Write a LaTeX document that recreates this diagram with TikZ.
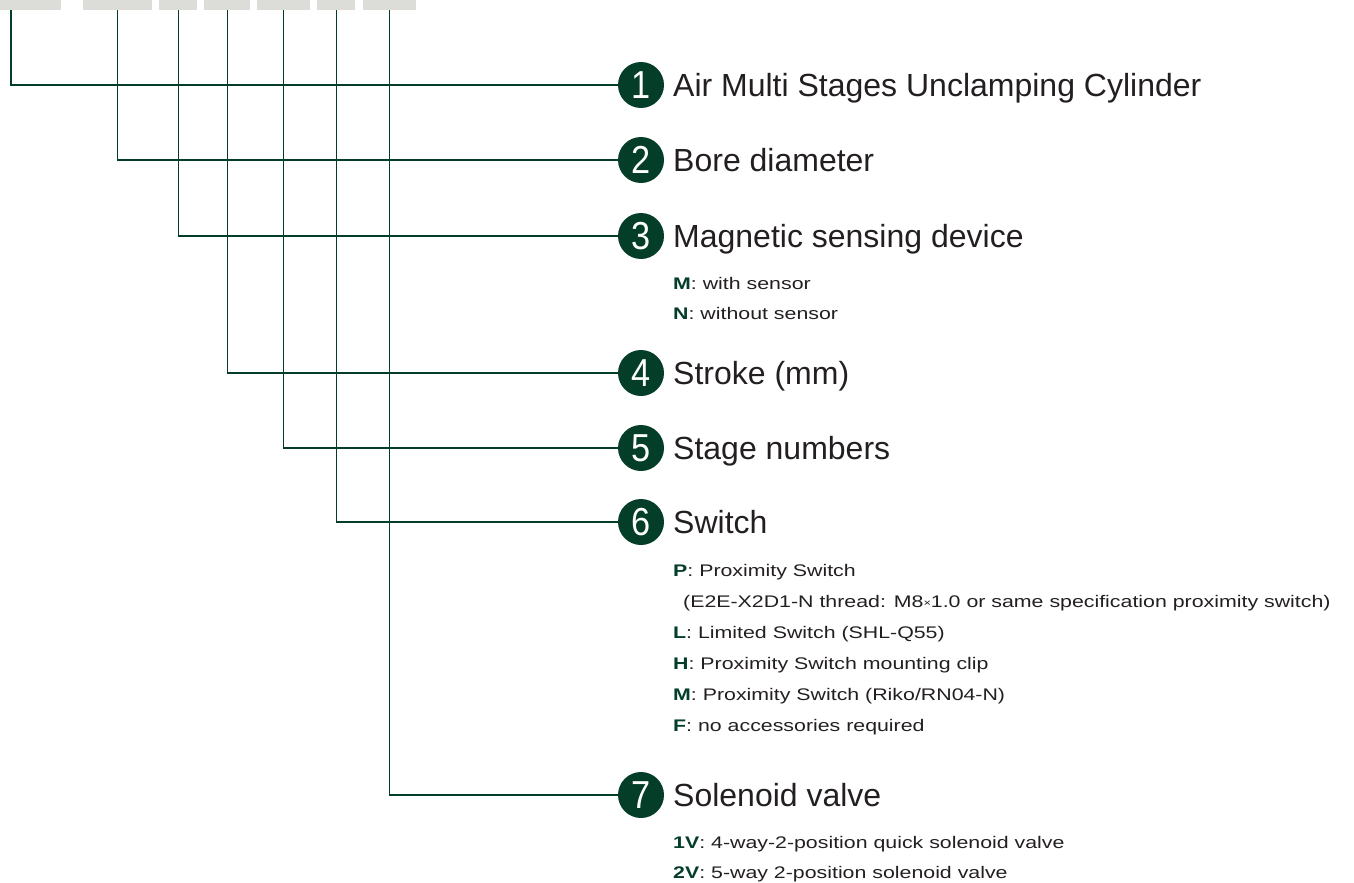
\documentclass[tikz,border=0pt]{standalone}
\usepackage{fontspec}
\setmainfont{Liberation Sans}
\newfontfamily\subfont[FakeStretch=1.27]{Liberation Sans}
\newfontfamily\numfont[FakeStretch=0.88]{Liberation Sans}

\definecolor{tagreen}{RGB}{4,62,40}
\definecolor{tabgray}{RGB}{220,220,216}
\definecolor{tatext}{RGB}{35,31,32}
\newcommand{\optkey}[1]{\textcolor{tagreen}{\textbf{#1}}}

\begin{document}
\begin{tikzpicture}[x=1pt,y=-1pt,
    tab/.style={fill=tabgray, inner sep=0, minimum height=10pt, anchor=north west},
    num/.style={circle, fill=tagreen, text=white, inner sep=0, minimum size=46pt,
        font=\numfont\fontsize{39}{39}\selectfont},
    lead/.style={draw=tagreen, line width=1.4pt},
    head/.style={anchor=base west, inner sep=0, text=tatext, font=\fontsize{32}{38}\selectfont},
    sub/.style={anchor=base west, inner sep=0, text=tatext, font=\subfont\fontsize{16.8}{20}\selectfont}]
        \useasboundingbox (0,0) rectangle (1354,883);
        % code boxes along the top
        \node[tab, minimum width=61pt] (b1) at (0,0) {};
        \node[tab, minimum width=69pt] (b2) at (83,0) {};
        \node[tab, minimum width=38pt] (b3) at (159,0) {};
        \node[tab, minimum width=46pt] (b4) at (204,0) {};
        \node[tab, minimum width=53pt] (b5) at (257,0) {};
        \node[tab, minimum width=38pt] (b6) at (317,0) {};
        \node[tab, minimum width=53pt] (b7) at (363,0) {};
        % numbered circles
        \node[num] (c1) at (641,85) {1};
        \node[num] (c2) at (641,160) {2};
        \node[num] (c3) at (641,236) {3};
        \node[num] (c4) at (641,373) {4};
        \node[num] (c5) at (641,448) {5};
        \node[num] (c6) at (641,522) {6};
        \node[num] (c7) at (641,795) {7};
        % leader lines
        \draw[lead] ([xshift=11pt]b1.south west) |- (c1.west);
        \draw[lead] (b2.south) |- (c2.west);
        \draw[lead] (b3.south) |- (c3.west);
        \draw[lead] (b4.south) |- (c4.west);
        \draw[lead] (b5.south) |- (c5.west);
        \draw[lead] (b6.south) |- (c6.west);
        \draw[lead] (b7.south) |- (c7.west);
        % headings
        \node[head] (h1) at (673,96.5) {Air Multi Stages Unclamping Cylinder};
        \node[head] (h2) at (673,171.5) {Bore diameter};
        \node[head] (h3) at (673,247.5) {Magnetic sensing device};
        \node[head] (h4) at (673,384.5) {Stroke (mm)};
        \node[head] (h5) at (673,459.5) {Stage numbers};
        \node[head] (h6) at (673,533.5) {Switch};
        \node[head] (h7) at (673,806.5) {Solenoid valve};
        % options
        \node[sub] (s3a) at (673,289) {\optkey{M}: with sensor};
        \node[sub] (s3b) at (673,319) {\optkey{N}: without sensor};
        \node[sub] (s6a) at (673,576) {\optkey{P}: Proximity Switch};
        \node[sub] (s6b) at (683,607) {(E2E-X2D1-N thread: M8\raisebox{1pt}{\fontsize{10}{10}\selectfont ×}1.0 or same specification proximity switch)};
        \node[sub] (s6c) at (673,638) {\optkey{L}: Limited Switch (SHL-Q55)};
        \node[sub] (s6d) at (673,669) {\optkey{H}: Proximity Switch mounting clip};
        \node[sub] (s6e) at (673,700) {\optkey{M}: Proximity Switch (Riko/RN04-N)};
        \node[sub] (s6f) at (673,731) {\optkey{F}: no accessories required};
        \node[sub] (s7a) at (673,848) {\optkey{1V}: 4-way-2-position quick solenoid valve};
        \node[sub] (s7b) at (673,878) {\optkey{2V}: 5-way 2-position solenoid valve};
    \end{tikzpicture}
\end{document}
